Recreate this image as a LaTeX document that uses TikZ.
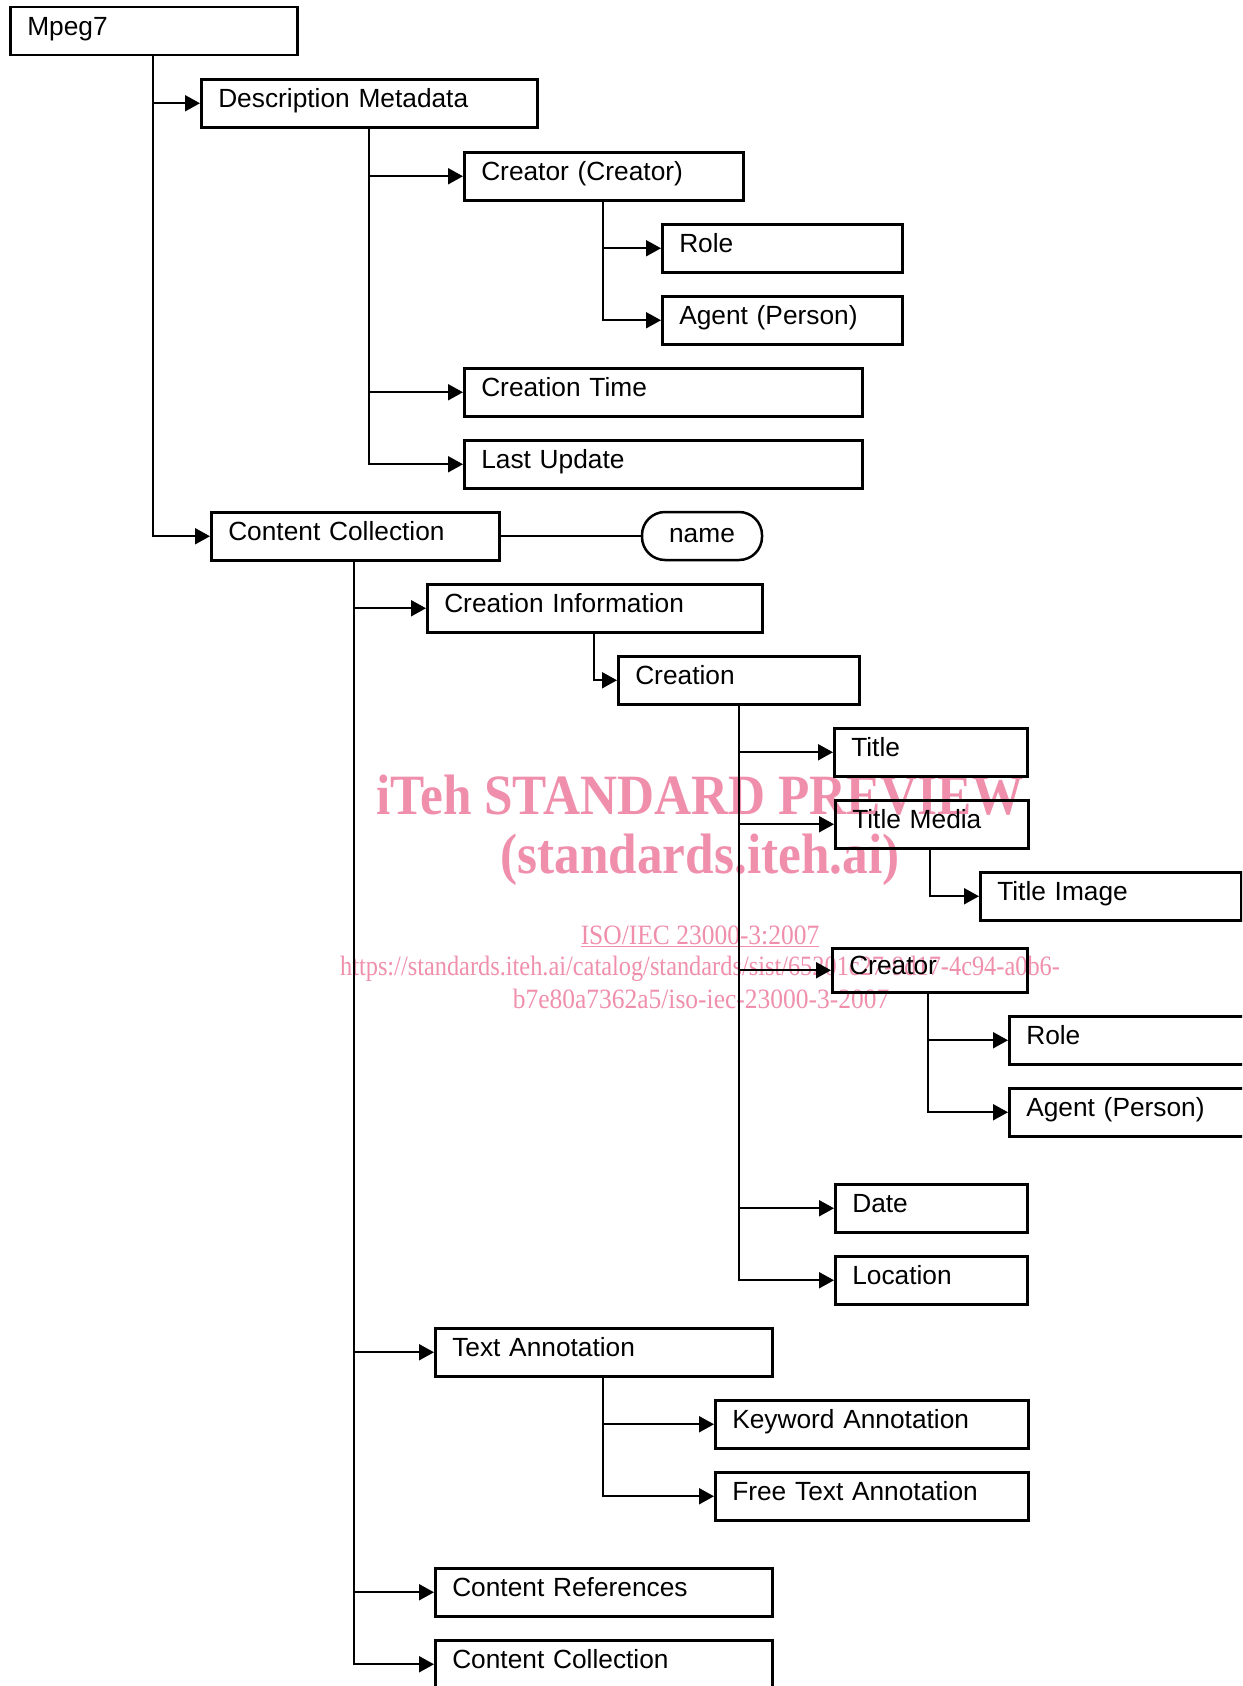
\documentclass[tikz,border=0pt]{standalone}
\usepackage{graphicx}
\usepackage{fontspec}
\setmainfont{Liberation Sans}
\newfontfamily\wmfont{Liberation Serif}
\usetikzlibrary{arrows.meta}
\definecolor{wmpink}{RGB}{239,143,172}

\tikzset{
  box/.style={draw, line width=2.5pt, anchor=north west, inner xsep=17pt, inner ysep=0pt,
    text height=28pt, text depth=20pt, align=left, font=\fontsize{26.3}{30}\selectfont},
  link/.style={line width=2pt, -{Triangle[length=15pt,width=16pt]}},
  wm/.style={text=wmpink, anchor=base, inner sep=0pt}
}

\begin{document}
\begin{tikzpicture}[x=1pt, y=-1pt]
        \useasboundingbox (0,0) rectangle (1242,1686);
        \clip (0,0) rectangle (1242,1686);

        \node[wm, font=\wmfont\bfseries\fontsize{57}{57}\selectfont] (wm1) at (700,814) {\scalebox{0.9}[1]{iTeh STANDARD PREVIEW}};
        \node[wm, font=\wmfont\bfseries\fontsize{57}{57}\selectfont] (wm2) at (700,873) {\scalebox{0.9}[1]{(standards.iteh.ai)}};
        \node[wm, font=\wmfont\fontsize{28}{28}\selectfont] (wm3) at (700,944) {\scalebox{0.91}[1]{\underline{ISO/IEC 23000-3:2007}}};
        \node[wm, font=\wmfont\fontsize{28}{28}\selectfont] (wm4) at (700,975) {\scalebox{0.87}[1]{https://standards.iteh.ai/catalog/standards/sist/65201c27-9d17-4c94-a0b6-}};
        \node[wm, font=\wmfont\fontsize{28}{28}\selectfont] (wm5) at (701,1008) {\scalebox{0.91}[1]{b7e80a7362a5/iso-iec-23000-3-2007}};

        \node[box, text width=253pt] (mpeg) at (9,6) {Mpeg7};
        \node[box, text width=302pt] (dm) at (200,78) {Description Metadata};
        \node[box, text width=245pt] (creA) at (463,151) {Creator (Creator)};
        \node[box, text width=206pt] (roleA) at (661,223) {Role};
        \node[box, text width=206pt] (agentA) at (661,295) {Agent (Person)};
        \node[box, text width=364pt] (ctime) at (463,367) {Creation Time};
        \node[box, text width=364pt] (lupd) at (463,439) {Last Update};
        \node[box, text width=254pt] (cc) at (210,511) {Content Collection};
        \node[draw, line width=2.5pt, rounded corners=23pt, minimum width=120pt, minimum height=48pt,
          inner sep=0pt, font=\fontsize{26.3}{30}\selectfont] (name) at (702,536) {name};
        \node[box, text width=301pt] (cinfo) at (426,583) {Creation Information};
        \node[box, text width=207pt] (creation) at (617,655) {Creation};
        \node[box, text width=159pt] (title) at (833,727) {Title};
        \node[box, text width=159pt] (tmedia) at (834,799) {Title Media};
        \node[box, text width=227pt] (timage) at (979,871) {Title Image};
        \node[box, text width=161pt, text height=26pt, text depth=18pt] (creB) at (831,947) {Creator};
        \node[box, text width=258pt] (roleB) at (1008,1015) {Role};
        \node[box, text width=258pt] (agentB) at (1008,1087) {Agent (Person)};
        \node[box, text width=158pt] (date) at (834,1183) {Date};
        \node[box, text width=158pt] (loc) at (834,1255) {Location};
        \node[box, text width=303pt] (tann) at (434,1327) {Text Annotation};
        \node[box, text width=279pt] (kw) at (714,1399) {Keyword Annotation};
        \node[box, text width=279pt] (ftann) at (714,1471) {Free Text Annotation};
        \node[box, text width=303pt] (cref) at (434,1567) {Content References};
        \node[box, text width=303pt] (cc2) at (434,1639) {Content Collection};

        \draw[link] ([xshift=144pt]mpeg.south west) |- (dm.west);
        \draw[link] ([xshift=144pt]mpeg.south west) |- (cc.west);
        \draw[link] ([xshift=169pt]dm.south west) |- (creA.west);
        \draw[link] ([xshift=169pt]dm.south west) |- (ctime.west);
        \draw[link] ([xshift=169pt]dm.south west) |- (lupd.west);
        \draw[link] ([xshift=140pt]creA.south west) |- (roleA.west);
        \draw[link] ([xshift=140pt]creA.south west) |- (agentA.west);
        \draw[line width=2pt] (cc.east) -- (cc.east -| name.west);
        \draw[link] ([xshift=144pt]cc.south west) |- (cinfo.west);
        \draw[link] ([xshift=144pt]cc.south west) |- (tann.west);
        \draw[link] ([xshift=144pt]cc.south west) |- (cref.west);
        \draw[link] ([xshift=144pt]cc.south west) |- (cc2.west);
        \draw[link] ([xshift=168pt]cinfo.south west) |- (creation.west);
        \draw[link] ([xshift=122pt]creation.south west) |- (title.west);
        \draw[link] ([xshift=122pt]creation.south west) |- (tmedia.west);
        \draw[link] ([xshift=122pt]creation.south west) |- (creB.west);
        \draw[link] ([xshift=122pt]creation.south west) |- (date.west);
        \draw[link] ([xshift=122pt]creation.south west) |- (loc.west);
        \draw[link] ([xshift=96pt]tmedia.south west) |- (timage.west);
        \draw[link] ([xshift=97pt]creB.south west) |- (roleB.west);
        \draw[link] ([xshift=97pt]creB.south west) |- (agentB.west);
        \draw[link] ([xshift=169pt]tann.south west) |- (kw.west);
        \draw[link] ([xshift=169pt]tann.south west) |- (ftann.west);
    \end{tikzpicture}
\end{document}
